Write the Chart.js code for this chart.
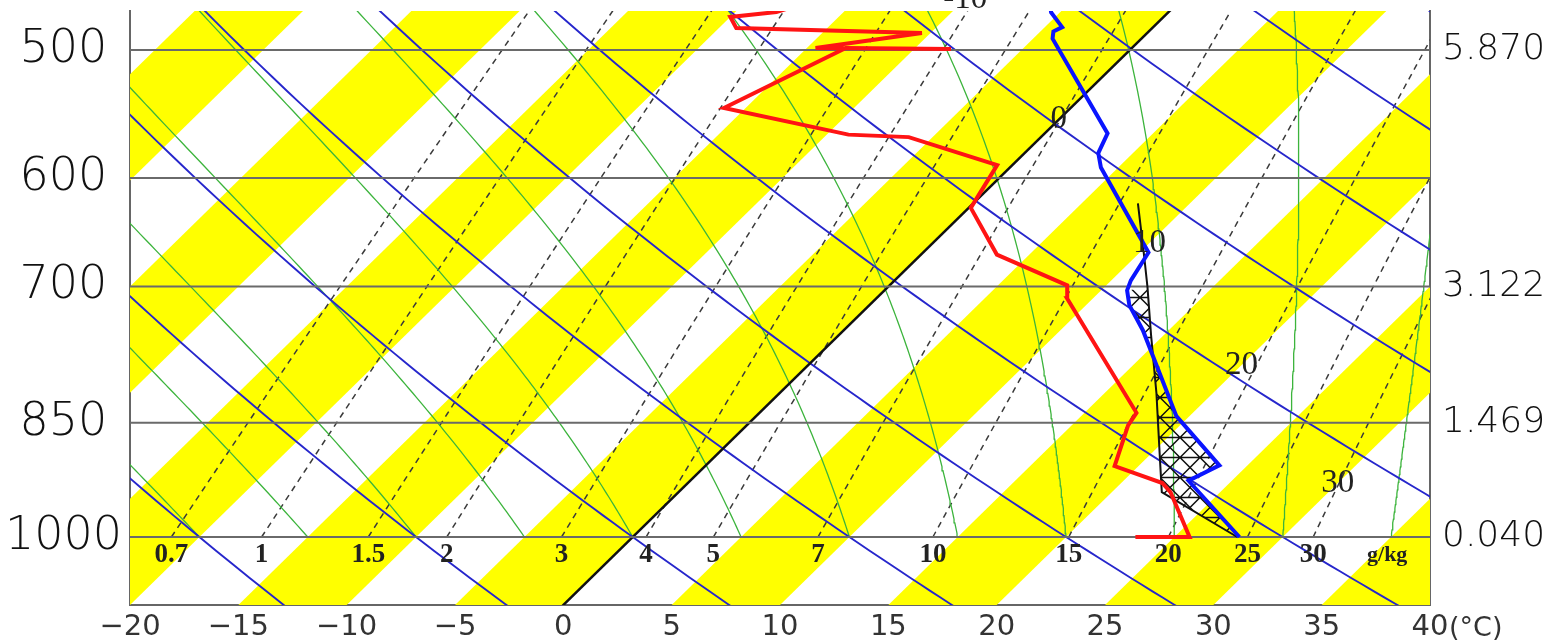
<!DOCTYPE html>
<html><head><meta charset="utf-8">
<script src="https://cdn.jsdelivr.net/npm/chart.js@4.4.1/dist/chart.umd.min.js"></script>
<style>html,body{margin:0;padding:0;background:#fff;}canvas{display:block;}</style>
</head><body>
<canvas id="c" width="1554" height="644"></canvas>
<script>
// ---- axis / tick data ----
const xTicks = [-20,-15,-10,-5,0,5,10,15,20,25,30,35,40];
const pressureTicks = [500,600,700,850,1000];
const heightTickPressures = [500,700,850,1000];
const heightLabels = ['5.870','3.122','1.469','0.040'];
const PTOP = 473, PBOT = 1101.6;   // pressure range of the plot (hPa)
const SKEW = 33.1;                 // degC of skew per ln(p) unit
// ---- background reference lines ----
const yellowBandStarts = [-55,-45,-35,-25,-15,-5,5,15,25,35];
const dryAdiabats = [-20,-10,0,10,20,30,40,50,60,70,80];         // theta, degC
const moistAdiabats = [-20,-15,-10,-5,0,5,10,15,20,25,30,35,40]; // degC at 1000 hPa
const mixingRatios = [0.7,1,1.5,2,3,4,5,7,10,15,20,25,30];       // g/kg
const mixingLabels = ['0.7','1','1.5','2','3','4','5','7','10','15','20','25','30'];
const isothermLabels = [-10,0,10,20,30];
const isothermLabelP = [465,552,658,783,926];
// ---- sounding (red) ----
const redP = [1000,1000,938,926,904,853,838,712,699,669,626,589,566,564,543,498.6,499.3,498.6,488,484.6,477,473.7,469.7];
const redT = [23.2,25.7,22.7,21.9,18.9,17.6,17.4,8.8,8.2,3.5,0.1,-0.7,-6.1,-9.0,-16.0,-13.2,-8.3,-14.6,-10.4,-19.2,-20.0,-18.1,-17.5];
// ---- sounding (blue) ----
const blueP = [1000,923,903,842,745,719,704,694,667,591,579,563,492,487,484,474,469];
const blueT = [28.0,23.0,23.7,19.4,13.8,12.0,11.2,10.9,10.4,4.2,3.4,2.9,-4.1,-4.4,-4.2,-5.4,-5.8];
// ---- parcel path (black) ----
const parcelP = [1000,938,896,815,750,701,671,622];
const parcelT = [27.9,22.3,20.7,17.4,14.4,12.0,10.4,7.6];

function sx(T,p){ return T + SKEW*Math.log(PBOT/p); }
function pt(T,p){ return {x:sx(T,p), y:p}; }
function dryT(th,p){ return (th+273.15)*Math.pow(p/1000,0.2857)-273.15; }
function mixT(w,p){ const e=w*p/(622+w); const l=Math.log(e/6.112); return 243.5*l/(17.67-l); }
function esat(tc){ return 6.112*Math.exp(17.67*tc/(tc+243.5)); }
function dTdp(T,p){ const Rd=287.04,Cp=1005.7,Lv=2.501e6,eps=0.622;
  const es=esat(T-273.15); const rs=eps*es/(p-es);
  return (Rd*T+Lv*rs)/(p*(Cp+Lv*Lv*rs*eps/(Rd*T*T))); }
function moistCurve(t0){
  const pts=[pt(t0,1000)]; let T=t0+273.15, p=1000; const h=-5;
  while(p>PTOP-10){
    const k1=dTdp(T,p),k2=dTdp(T+h*k1/2,p+h/2),k3=dTdp(T+h*k2/2,p+h/2),k4=dTdp(T+h*k3,p+h);
    T+=h*(k1+2*k2+2*k3+k4)/6; p+=h; pts.push(pt(T-273.15,p));
  }
  return pts;
}
function pRange(a,b,step){ const r=[]; for(let p=a;p>=b;p-=step) r.push(p); return r; }

const datasets=[];
function add(o){ datasets.push(Object.assign({pointRadius:0,tension:0,fill:false,borderWidth:1},o)); }

// yellow bands
yellowBandStarts.forEach(t=>add({data:[pt(t,PBOT),pt(t+5,PBOT),pt(t+5,PTOP-20),pt(t,PTOP-20),pt(t,PBOT)],
  fill:'shape',backgroundColor:'#ffff00',borderWidth:0,borderColor:'rgba(0,0,0,0)',order:100}));
// mixing ratio lines
mixingRatios.forEach(w=>add({data:pRange(1000,PTOP-10,10).map(p=>pt(mixT(w,p),p)),
  borderColor:'#3a3a3a',borderWidth:1.5,borderDash:[6,5],order:90}));
// moist adiabats
moistAdiabats.forEach(t=>add({data:moistCurve(t),borderColor:'#3cb43c',borderWidth:1.3,order:80}));
// dry adiabats
dryAdiabats.forEach(th=>add({data:pRange(1110,PTOP-10,10).map(p=>pt(dryT(th,p),p)),
  borderColor:'#2626cc',borderWidth:1.9,order:70}));
// 0 degC isotherm
add({data:[pt(0,PBOT+10),pt(0,PTOP-10)],borderColor:'#111',borderWidth:2.5,order:60});
// pressure grid lines
pressureTicks.forEach(p=>add({data:[{x:xTicks[0],y:p},{x:xTicks[xTicks.length-1],y:p}],
  borderColor:'#6a6a6a',borderWidth:2,order:50}));
// hatch pattern
function makeHatch(){
  const c=document.createElement('canvas'); c.width=20; c.height=20;
  const g=c.getContext('2d'); g.strokeStyle='#111'; g.lineWidth=1.5;
  g.beginPath(); g.moveTo(0,17.5); g.lineTo(20,17.5);
  g.moveTo(0,-2.5); g.lineTo(20,17.5); g.moveTo(20,-2.5); g.lineTo(0,17.5);
  g.moveTo(0,17.5); g.lineTo(20,37.5); g.moveTo(20,17.5); g.lineTo(0,37.5);
  g.stroke();
  return g.createPattern(c,'repeat');
}
const hatchPts=[];
parcelP.forEach((p,i)=>{ if(p>=700) hatchPts.push(pt(parcelT[i],p)); });
const bl=[]; blueP.forEach((p,i)=>{ if(p>=700) bl.push(pt(blueT[i],p)); });
hatchPts.reverse();
add({data:hatchPts.concat(bl),fill:'shape',backgroundColor:makeHatch(),borderWidth:0,borderColor:'rgba(0,0,0,0)',order:40});
// parcel
add({data:parcelP.map((p,i)=>pt(parcelT[i],p)),borderColor:'#111',borderWidth:2,order:30});
// red profile
add({data:redP.map((p,i)=>pt(redT[i],p)),borderColor:'#ff1414',borderWidth:4,borderJoinStyle:'miter',order:20});
// blue profile
add({data:blueP.map((p,i)=>pt(blueT[i],p)),borderColor:'#0a14ff',borderWidth:4,order:10});

const SANS='"DejaVu Sans", sans-serif';
const textPlugin={id:'texts',afterDatasetsDraw(chart){
  const {ctx,scales:{x,y}}=chart; ctx.save();
  ctx.fillStyle='#222'; ctx.textAlign='center'; ctx.textBaseline='middle';
  ctx.font='bold 27px "Liberation Serif", serif';
  const y1000=y.getPixelForValue(1000);
  mixingRatios.forEach((w,i)=>{ ctx.fillText(mixingLabels[i], x.getPixelForValue(sx(mixT(w,1000),1000)), y1000+18); });
  ctx.font='bold 22px "Liberation Serif", serif';
  ctx.fillText('g/kg', x.getPixelForValue(sx(mixT(30,1000),1000))+74, y1000+18);
  ctx.font='33px "Liberation Serif", serif';
  isothermLabels.forEach((t,i)=>{ const p=isothermLabelP[i];
    ctx.fillText(t<0?'-'+Math.abs(t):String(t), x.getPixelForValue(sx(t,p)), y.getPixelForValue(p)); });
  ctx.font='27px '+SANS; ctx.fillStyle='#333'; ctx.textAlign='left';
  ctx.fillText('(\u00b0C)', x.right+19, x.bottom-15);
  ctx.restore();
}};

new Chart(document.getElementById('c'),{
  type:'line',
  data:{datasets},
  plugins:[textPlugin],
  options:{
    responsive:false, animation:false, devicePixelRatio:1, events:[],
    layout:{padding:{top:11,left:0,right:0,bottom:0}},
    plugins:{legend:{display:false},tooltip:{enabled:false}},
    scales:{
      x:{type:'linear',min:xTicks[0],max:xTicks[xTicks.length-1],
        afterBuildTicks:s=>{s.ticks=xTicks.map(v=>({value:v}));},
        afterFit:s=>{s.height=39;s.paddingLeft=0;s.paddingRight=0;},
        grid:{display:false,drawTicks:false},border:{display:true,color:'#666',width:2},
        ticks:{padding:5,color:'#333',autoSkip:false,maxRotation:0,font:{family:SANS,size:29},
          callback:v=>v<0?'\u2212'+Math.abs(v):String(v)}},
      y:{type:'logarithmic',position:'left',reverse:true,min:PTOP,max:PBOT,bounds:'data',
        afterBuildTicks:s=>{s.ticks=pressureTicks.map(v=>({value:v}));},
        afterFit:s=>{s.width=130;s.paddingTop=0;s.paddingBottom=0;},
        grid:{display:false,drawTicks:false},border:{display:true,color:'#666',width:2},
        ticks:{padding:8,crossAlign:'center',color:'#111',font:{family:SANS,size:46,weight:'200'},
          callback:v=>String(v)}},
      y2:{type:'logarithmic',position:'right',reverse:true,min:PTOP,max:PBOT,bounds:'data',
        afterBuildTicks:s=>{s.ticks=heightTickPressures.map(v=>({value:v}));},
        afterFit:s=>{s.width=124;s.paddingTop=0;s.paddingBottom=0;},
        grid:{display:false,drawTicks:false},border:{display:true,color:'#666',width:2},
        ticks:{padding:12,color:'#111',font:{family:SANS,size:36,weight:'200'},
          callback:v=>heightLabels[heightTickPressures.indexOf(v)]}}
    }
  }
});
</script>
</body></html>
